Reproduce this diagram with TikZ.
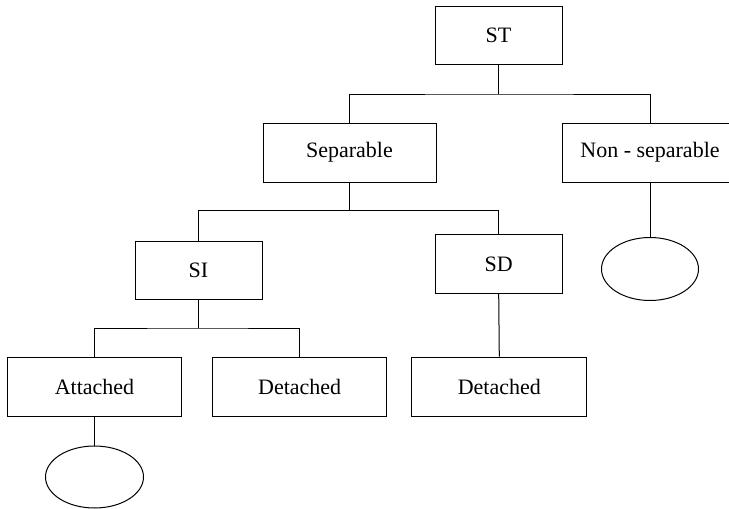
\documentclass[tikz,border=0pt]{standalone}
\usepackage{fontspec}
\setmainfont{Liberation Serif}
\usetikzlibrary{shapes.geometric}
\begin{document}
\begin{tikzpicture}[x=1pt,y=-1pt,
  line width=1pt,
  box/.style={draw, rectangle, inner sep=0pt, minimum width=#1, minimum height=59pt,
              font=\rmfamily\fontsize{22}{26}\selectfont},
  leaf/.style={draw, ellipse, inner sep=0pt, minimum width=98pt, minimum height=62pt}]
\useasboundingbox (0,0) rectangle (729,509);
\clip (0,0) rectangle (729,509);

% boxes
\node[box=127pt, minimum height=58pt] (ST)  at (498.5,35)   {ST};
\node[box=173pt] (sep) at (349.5,152.5) {Separable};
\node[box=176pt] (non) at (650,152.5)   {Non - separable};
\node[box=127pt, minimum height=58pt] (SI) at (198.5,270) {SI};
\node[box=127pt] (SD)  at (498.7,264)   {SD};
\node[box=174pt] (att) at (94.5,386.5)  {Attached};
\node[box=174pt] (det) at (299.7,386.5) {Detached};
\node[box=175pt] (sdd) at (499.3,386.5) {Detached};

% empty leaves
\node[leaf] (e1) at (94.5,477) {};
\node[leaf, minimum width=97pt, minimum height=63pt] (e2) at (650,269) {};

% junctions of the branch lines
\coordinate (j1) at (498.5,94);
\coordinate (j2) at (349.5,210.5);
\coordinate (j3) at (198.5,328);

% connectors
\draw (ST.south) -- (j1);
\draw (sep.north) |- (j1) -| (non.north);
\draw (sep.south) -- (j2);
\draw (SI.north) |- (j2) -| (SD.north);
\draw (SI.south) -- (j3);
\draw (att.north) |- (j3) -| (det.north);
\draw (SD.south) -- (sdd.north);
\draw (att.south) -- (e1.north);
\draw (non.south) -- (e2.north);
\end{tikzpicture}
\end{document}
